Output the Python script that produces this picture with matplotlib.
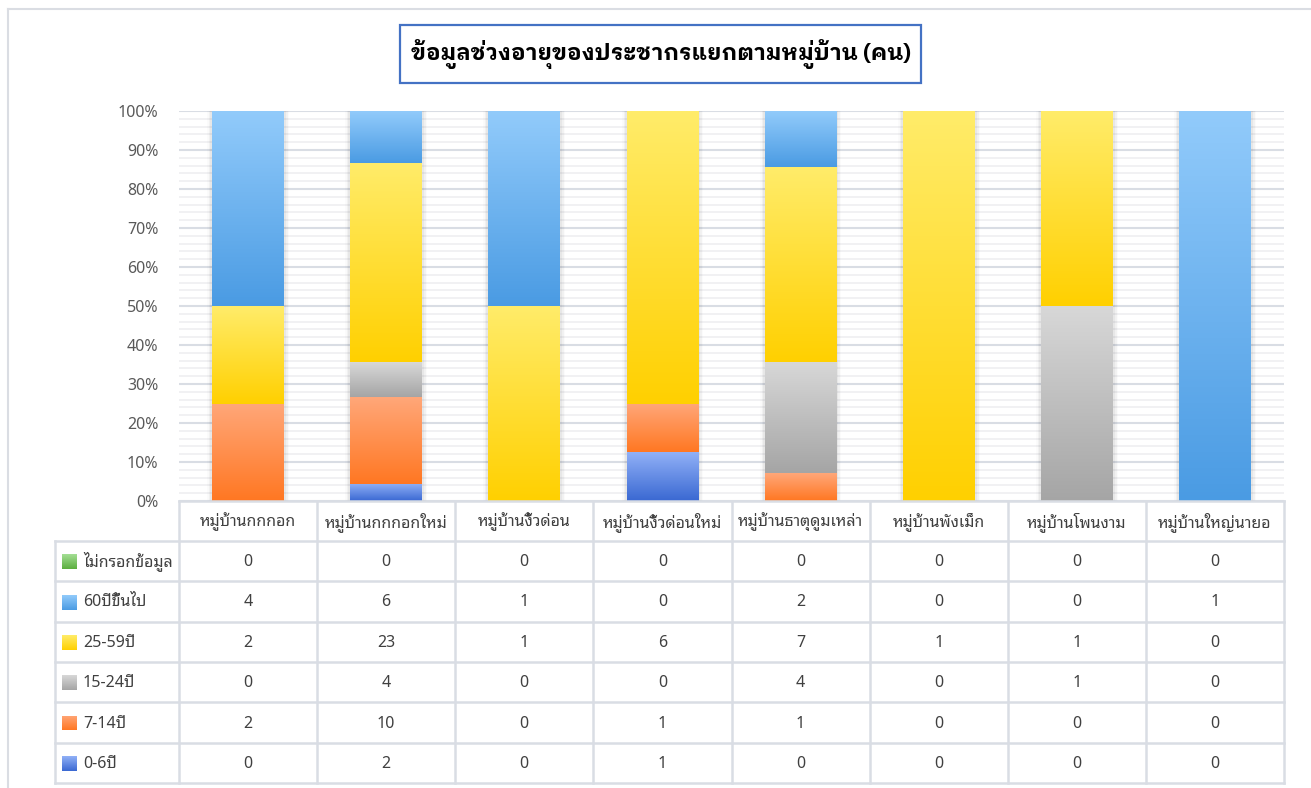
import matplotlib
matplotlib.use("Agg")
import numpy as np
import matplotlib.pyplot as plt
from matplotlib import font_manager as fm
from matplotlib import transforms
from matplotlib.colors import LinearSegmentedColormap
from matplotlib.lines import Line2D
from matplotlib.patches import Rectangle

# ---------------- data ----------------
categories = ["หมู่บ้านกกกอก", "หมู่บ้านกกกอกใหม่", "หมู่บ้านงิ้วด่อน", "หมู่บ้านงิ้วด่อนใหม่",
              "หมู่บ้านธาตุดูมเหล่า", "หมู่บ้านพังเม็ก", "หมู่บ้านโพนงาม", "หมู่บ้านใหญ่นายอ"]
# stacking order bottom -> top
series_names = ["0-6ปี", "7-14ปี", "15-24ปี", "25-59ปี", "60ปีขึ้นไป", "ไม่กรอกข้อมูล"]
age_0_6 = [0, 2, 0, 1, 0, 0, 0, 0]
age_7_14 = [2, 10, 0, 1, 1, 0, 0, 0]
age_15_24 = [0, 4, 0, 0, 4, 0, 1, 0]
age_25_59 = [2, 23, 1, 6, 7, 1, 1, 0]
age_60_up = [4, 6, 1, 0, 2, 0, 0, 1]
no_data = [0, 0, 0, 0, 0, 0, 0, 0]
series_values = [age_0_6, age_7_14, age_15_24, age_25_59, age_60_up, no_data]
title = "ข้อมูลช่วงอายุของประชากรแยกตามหมู่บ้าน (คน)"
ytick_labels = ["0%", "10%", "20%", "30%", "40%", "50%", "60%", "70%", "80%", "90%", "100%"]

# gradient colours (top, bottom)
grad_colors = [("#91B1F7", "#3A68D2"),
               ("#FFA779", "#FF7722"),
               ("#D8D8D8", "#A5A5A5"),
               ("#FFEC6A", "#FFD000"),
               ("#92CBFB", "#4A9BE3"),
               ("#A9E29B", "#5BAE3E")]

# ---------------- fonts ----------------
installed = {f.name for f in fm.fontManager.ttflist}
cands = ["Noto Sans Thai Looped", "IBM Plex Sans Thai Looped", "Noto Sans Thai",
         "IBM Plex Sans Thai", "Sarabun", "Anuphan", "Bai Jamjuree"]
thai = next((c for c in cands if c in installed), None)
FAM = [thai, "DejaVu Sans"] if thai else ["DejaVu Sans"]
plt.rcParams["font.family"] = FAM

# a Thai family with a real static bold face for the title
static_bold = {f.name for f in fm.fontManager.ttflist
               if f.fname.lower().endswith("-bold.ttf")}
tcands = ["IBM Plex Sans Thai Looped", "Noto Sans Thai Looped", "IBM Plex Sans Thai",
          "Noto Sans Thai", "Sarabun", "Anuphan", "Bai Jamjuree"]
thai_bold = next((c for c in tcands if c in static_bold), thai)
TFAM = [thai_bold, "DejaVu Sans"] if thai_bold else ["DejaVu Sans"]

W, H = 1311, 788
fig = plt.figure(figsize=(W / 100, H / 100), dpi=100)
fig.patch.set_facecolor("white")

def fx(px):
    return px / W

def fy(py):
    return 1 - py / H

FS = 11.5
TXT = "#404040"

ax_l, ax_r, ax_t, ax_b = 179, 1284, 111, 501
ax = fig.add_axes([fx(ax_l), fy(ax_b), fx(ax_r - ax_l), (ax_b - ax_t) / H])
ax.set_facecolor("none")

vals = np.array(series_values, dtype=float)
totals = vals.sum(axis=0)
pct = vals / np.where(totals == 0, 1, totals)

x = np.arange(len(categories))
bw = 0.52

# soft shadow around bars
for lw, a in [(7, 0.02), (5, 0.03), (3, 0.045)]:
    ax.bar(x, (totals > 0).astype(float), width=bw, facecolor="none",
           edgecolor=(0, 0, 0, a), linewidth=lw, zorder=2)

bottom = np.zeros(len(categories))
grad = np.linspace(0, 1, 256).reshape(-1, 1)
for s, (name, p) in enumerate(zip(series_names, pct)):
    bars = ax.bar(x, p, width=bw, bottom=bottom, color="white", linewidth=0, zorder=3)
    cmap = LinearSegmentedColormap.from_list(name, [grad_colors[s][1], grad_colors[s][0]])
    for rect in bars:
        h = rect.get_height()
        if h <= 0:
            continue
        x0 = rect.get_x()
        y0 = rect.get_y()
        ax.imshow(grad, extent=[x0, x0 + rect.get_width(), y0, y0 + h], origin="lower",
                  aspect="auto", cmap=cmap, zorder=4, interpolation="bilinear")
    bottom += p

ax.set_xlim(-0.5, len(categories) - 0.5)
ax.set_ylim(0, 1)
ax.set_yticks(np.linspace(0, 1, 11))
ax.set_yticklabels(ytick_labels)
ax.set_yticks(np.arange(0, 1.0001, 0.02), minor=True)
ax.tick_params(axis="y", which="both", length=0, pad=15, labelsize=FS, labelcolor="#595959")
ax.tick_params(axis="x", which="both", length=0, labelbottom=False)
ax.grid(axis="y", which="minor", color="#F0F0F2", linewidth=1.3, zorder=0)
ax.grid(axis="y", which="major", color="#D9DDE4", linewidth=1.5, zorder=1)
for sp in ax.spines.values():
    sp.set_visible(False)

# ---------------- data table ----------------
lc = "#D9DDE4"
blend = transforms.blended_transform_factory(ax.transData, fig.transFigure)
hdr_top, hdr_bot, tbl_bot = 501, 541, 783
n_rows = len(series_names)
row_h = (tbl_bot - hdr_bot) / n_rows
lab_left = 55

for b in np.arange(-0.5, len(categories), 1.0):
    fig.add_artist(Line2D([b, b], [fy(hdr_top), fy(tbl_bot)], transform=blend,
                          color=lc, linewidth=1.8, zorder=5))
fig.add_artist(Line2D([-0.5, len(categories) - 0.5], [fy(hdr_top)] * 2, transform=blend,
                      color=lc, linewidth=1.8, zorder=5))
for r in range(n_rows + 1):
    yy = fy(hdr_bot + r * row_h)
    fig.add_artist(Line2D([fx(lab_left), fx(ax_r)], [yy, yy], transform=fig.transFigure,
                          color=lc, linewidth=1.8, zorder=5))
fig.add_artist(Line2D([fx(lab_left)] * 2, [fy(hdr_bot), fy(tbl_bot)], transform=fig.transFigure,
                      color=lc, linewidth=1.8, zorder=5))

for i, c in enumerate(categories):
    fig.text(i, fy((hdr_top + hdr_bot) / 2 + 1), c, transform=blend, ha="center", va="center",
             fontsize=FS, color=TXT)

for r, s in enumerate(reversed(range(n_rows))):
    yc = hdr_bot + (r + 0.5) * row_h
    sw = fig.add_axes([fx(62), fy(yc + 8), fx(15), 15 / H])
    sw.imshow(grad, origin="lower", aspect="auto", extent=[0, 1, 0, 1],
              cmap=LinearSegmentedColormap.from_list("sw%d" % s, [grad_colors[s][1], grad_colors[s][0]]))
    sw.set_axis_off()
    fig.text(fx(83), fy(yc + 1), series_names[s], ha="left", va="center", fontsize=FS, color=TXT)
    for i, v in enumerate(series_values[s]):
        fig.text(i, fy(yc + 1), str(v), transform=blend, ha="center", va="center",
                 fontsize=FS, color=TXT)

# chart outer border (top and left visible)
fig.add_artist(Line2D([fx(8), 1], [fy(9), fy(9)], transform=fig.transFigure, color="#DADDE3", linewidth=1.5))
fig.add_artist(Line2D([fx(8), fx(8)], [fy(9), 0], transform=fig.transFigure, color="#DADDE3", linewidth=1.5))

# title with box
fig.add_artist(Rectangle((fx(400), fy(83)), fx(521), 58 / H, transform=fig.transFigure,
                         facecolor="white", edgecolor="#4472C4", linewidth=1.6, zorder=6))
fig.text(fx(661), fy(54), title, ha="center", va="center", fontsize=16.2, fontweight="bold",
         color="black", zorder=7, family=TFAM)

fig.savefig("out.png", dpi=100, facecolor="white")
